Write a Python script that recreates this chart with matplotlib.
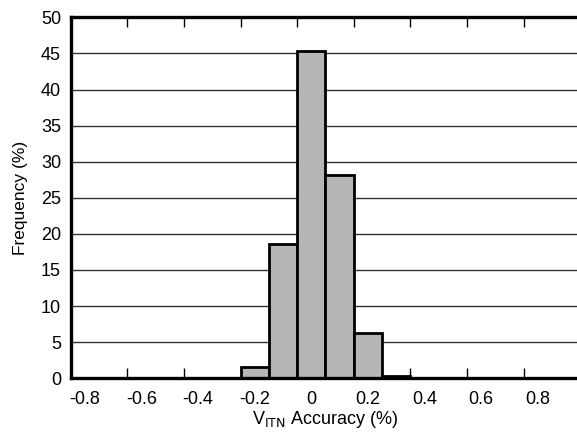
import matplotlib
matplotlib.use("Agg")
import matplotlib.pyplot as plt
import numpy as np

plt.rcParams['font.family'] = ['Liberation Sans', 'DejaVu Sans']

bin_centers = [-0.2, -0.1, 0.0, 0.1, 0.2, 0.3]
frequency = [1.6, 18.6, 45.3, 28.2, 6.3, 0.3]
x_tick_labels = [-0.8, -0.6, -0.4, -0.2, 0, 0.2, 0.4, 0.6, 0.8]
y_ticks = [0, 5, 10, 15, 20, 25, 30, 35, 40, 45, 50]

fig = plt.figure(figsize=(5.77, 4.34), dpi=100)
ax = fig.add_axes([70.7/577, (434-378.3)/434, 509.4/577, (378.3-17.3)/434])

ax.bar(bin_centers, frequency, width=0.1, color='#b6b6b6', edgecolor='black',
       linewidth=2.0, zorder=3)

ax.set_xlim(-0.85, 0.95)
ax.set_ylim(0, 50)

ax.set_yticks(y_ticks)
ax.set_yticklabels([str(v) for v in y_ticks])
ax.yaxis.grid(True, color='#333333', linewidth=1.0, zorder=1)
ax.set_axisbelow(True)
ax.tick_params(axis='y', length=0, pad=7, labelsize=13)

ax.set_xticks(x_tick_labels)
ax.set_xticklabels([('%g' % v) for v in x_tick_labels])
ax.set_xticks(np.round(np.arange(-0.65, 0.8, 0.2), 2), minor=True)
ax.tick_params(axis='x', which='major', length=0, pad=9, labelsize=13)
ax.tick_params(axis='x', which='minor', direction='in', length=7, width=1.0,
               top=True, bottom=True, color='black')

for s in ['left', 'bottom', 'top']:
    ax.spines[s].set_linewidth(2.4)
    ax.spines[s].set_zorder(5)
ax.spines['right'].set_visible(False)

ax.set_ylabel('Frequency (%)', fontsize=12.5, labelpad=9)
ax.set_xlabel('V$_{\\mathrm{ITN}}$ Accuracy (%)', fontsize=13, labelpad=1)

fig.savefig('out.png', dpi=100)
